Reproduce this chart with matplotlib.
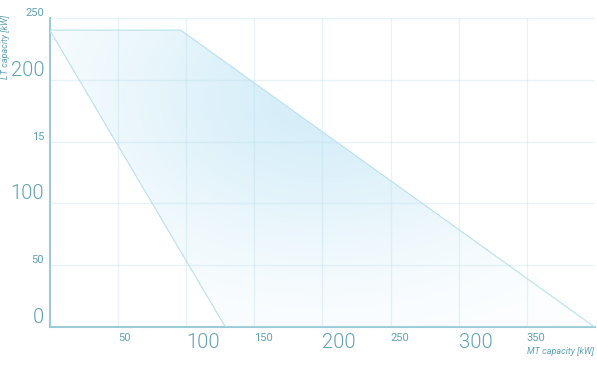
import matplotlib
matplotlib.use('Agg')
import matplotlib.pyplot as plt
from matplotlib.patches import Polygon
from matplotlib.colors import LinearSegmentedColormap
import numpy as np

# operating envelope (MT capacity vs LT capacity)
mt = [0, 96, 400, 129]
lt = [240, 240, 0, 0]

xticks = [50, 100, 150, 200, 250, 300, 350]
xlabels = ['50', '100', '150', '200', '250', '300', '350']
yticks = [0, 50, 100, 150, 200, 250]
ylabels = ['0', '50', '100', '15', '200', '250']
big = {'0', '100', '200', '300'}

txt = '#5fa2b7'
grid_c = '#b9dfea'

plt.rcParams['font.family'] = ['Roboto', 'DejaVu Sans']

fig = plt.figure(figsize=(5.97, 3.85), dpi=100)
ax = fig.add_axes([49.7 / 597, (385 - 327.3) / 385, (595 - 49.7) / 597, (327.3 - 17.7) / 385])
ax.set_xlim(0, 400)
ax.set_ylim(0, 250)

# gradient fill clipped to the envelope
gx, gy = np.meshgrid(np.linspace(0, 400, 400), np.linspace(0, 250, 250))
val = np.exp(-(((gx - 200) / 170) ** 2 + ((gy - 185) / 130) ** 2))
cmap = LinearSegmentedColormap.from_list('fade', ['#ffffff', '#d6eef9'])
poly = Polygon(list(zip(mt, lt)), closed=True, facecolor='none',
               edgecolor='#b8e1ed', linewidth=0.8, zorder=3)
ax.add_patch(poly)
im = ax.imshow(val, extent=(0, 400, 0, 250), origin='lower', cmap=cmap,
               vmin=0, vmax=1, aspect='auto', zorder=1, interpolation='bilinear')
im.set_clip_path(poly)

# grid
for t in xticks:
    ax.axvline(t, color=grid_c, alpha=0.35, linewidth=1, zorder=2)
for t in yticks[1:]:
    ax.axhline(t, color=grid_c, alpha=0.35, linewidth=1, zorder=2)

for s in ['top', 'right']:
    ax.spines[s].set_visible(False)
for s in ['left', 'bottom']:
    ax.spines[s].set_color('#9ccbd8')
    ax.spines[s].set_linewidth(1.5)

ax.set_xticks(xticks)
ax.set_xticklabels(xlabels)
ax.set_yticks(yticks)
ax.set_yticklabels(ylabels)
ax.tick_params(length=0, colors=txt, pad=4)
for lab in list(ax.get_xticklabels()) + list(ax.get_yticklabels()):
    if lab.get_text() in big:
        lab.set_fontsize(14.5)
        lab.set_fontweight(300)
    else:
        lab.set_fontsize(8)
for lab in ax.get_xticklabels():
    lab.set_ha('left')
    lab.set_va('top')
for lab in ax.get_yticklabels():
    lab.set_va('bottom')

fig.text(594 / 597, 1 - 352 / 385, 'MT capacity [kW]', ha='right', va='center',
         fontsize=6.5, style='italic', color=txt)
fig.text(6 / 597, 1 - 15 / 385, 'LT capacity [kW]', ha='center', va='top',
         rotation=90, fontsize=6.5, style='italic', color=txt)

fig.savefig('out.png', dpi=100)
